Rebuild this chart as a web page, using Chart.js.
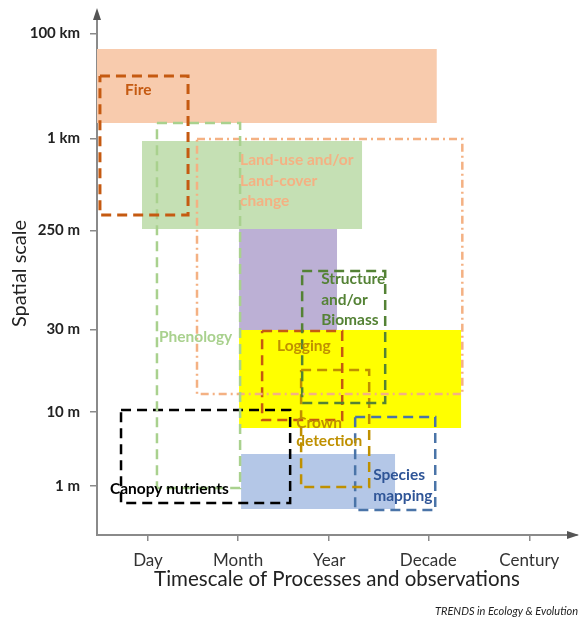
<!DOCTYPE html>
<html>
<head>
<meta charset="utf-8">
<script src="https://cdn.jsdelivr.net/npm/chart.js@4"></script>
<style>
  body { margin: 0; background: #fff; }
</style>
</head>
<body>
<canvas id="scaleChart" width="581" height="621"></canvas>
<script>
// axis ticks (conceptual, non-uniform scales)
const timeTickLabels = ['Day', 'Month', 'Year', 'Decade', 'Century'];
const timeTickValues = [1, 1.945, 2.9, 3.94, 5];
const spaceTickLabels = ['1 m', '10 m', '30 m', '250 m', '1 km', '100 km'];
const spaceTickValues = [1, 1.82, 2.74, 3.84, 4.86, 6.03];

// filled areas (sensor coverage)
const areaTimeFrom = [0.465, 0.937, 1.955, 1.955, 1.976];
const areaTimeTo = [4.03, 3.247, 2.984, 4.286, 3.593];
const areaSpaceFrom = [5.033, 3.856, 2.733, 1.644, 0.744];
const areaSpaceTo = [5.856, 4.833, 3.856, 2.733, 1.356];

// dashed boxes (processes)
const boxNames = ['Fire', 'Phenology', 'Land-use and/or land-cover change', 'Structure and/or Biomass',
  'Logging', 'Crown detection', 'Species mapping', 'Canopy nutrients'];
const boxTimeFrom = [0.496, 1.094, 1.514, 2.617, 2.197, 2.606, 3.173, 0.717];
const boxTimeTo = [1.42, 1.966, 4.297, 3.488, 3.037, 3.32, 4.013, 2.491];
const boxSpaceFrom = [4.011, 0.978, 2.022, 1.922, 1.733, 0.989, 0.733, 0.811];
const boxSpaceTo = [5.556, 5.033, 4.856, 3.389, 2.722, 2.289, 1.767, 1.844];
const boxLabelLines = [['Fire'], ['Phenology'], ['Land-use and/or', 'Land-cover', 'change'],
  ['Structure', 'and/or', 'Biomass'], ['Logging'], ['Crown', 'detection'], ['Species', 'mapping'],
  ['Canopy nutrients']];
const labelTime = [0.759, 1.115, 1.966, 2.816, 2.354, 2.554, 3.362, 0.601];
const labelSpace = [5.4, 2.656, 4.622, 3.3, 2.556, 1.7, 1.122, 0.967];

// styles
const areaColors = ['#f8cbad', '#c5e0b4', '#bcb0d5', '#ffff00', '#b4c7e7'];
const boxColors = ['#c55a11', '#a9d18e', '#f4b183', '#548235', '#c55a11', '#bf9000', '#4a74a8', '#000000'];
const labelColors = ['#c55a11', '#a9d18e', '#f4b183', '#548235', '#bf9000', '#bf9000', '#2f5597', '#000000'];
const axisGrey = '#8a8a8a';

const datasets = [];
boxNames.forEach((name, i) => {
    datasets.push({
        label: name,
        order: 0,
        data: [
            {x: boxTimeFrom[i], y: boxSpaceTo[i]},
            {x: boxTimeTo[i], y: boxSpaceTo[i]},
            {x: boxTimeTo[i], y: boxSpaceFrom[i]},
            {x: boxTimeFrom[i], y: boxSpaceFrom[i]},
            {x: boxTimeFrom[i], y: boxSpaceTo[i]}
        ],
        borderColor: boxColors[i],
        borderWidth: i === 0 ? 3 : 2.5,
        borderDash: i === 2 ? [8, 4, 2, 4] : [10, 6],
        borderCapStyle: 'butt',
        borderJoinStyle: 'miter',
        fill: false,
        pointRadius: 0,
        tension: 0
    });
});
areaColors.forEach((color, i) => {
    datasets.push({
        label: 'area' + i,
        order: 10,
        data: [
            {x: areaTimeFrom[i], y: areaSpaceTo[i]},
            {x: areaTimeTo[i], y: areaSpaceTo[i]}
        ],
        borderWidth: 0,
        borderColor: 'rgba(0,0,0,0)',
        backgroundColor: color,
        fill: {value: areaSpaceFrom[i]},
        pointRadius: 0
    });
});

// labels inside the boxes
const boxLabelPlugin = {
    id: 'boxLabels',
    afterDatasetsDraw(chart) {
        const {ctx, scales: {x, y}} = chart;
        ctx.save();
        ctx.font = 'bold 15.5px Lato';
        ctx.textAlign = 'left';
        ctx.textBaseline = 'middle';
        boxLabelLines.forEach((lines, i) => {
            ctx.fillStyle = labelColors[i];
            const px = x.getPixelForValue(labelTime[i]);
            const py = y.getPixelForValue(labelSpace[i]);
            const gap = lines[0] === 'Crown' ? 18 : 20.5;
            lines.forEach((line, j) => ctx.fillText(line, px, py + j * gap));
        });
        ctx.restore();
    }
};

// arrow heads + source note
const arrowPlugin = {
    id: 'axisArrows',
    afterDraw(chart) {
        const {ctx, chartArea: {left, right, top, bottom}} = chart;
        ctx.save();
        ctx.fillStyle = '#555';
        ctx.beginPath();
        ctx.moveTo(left, top - 4);
        ctx.lineTo(left - 4, top + 8);
        ctx.lineTo(left + 4, top + 8);
        ctx.closePath();
        ctx.fill();
        ctx.beginPath();
        ctx.moveTo(right + 2, bottom);
        ctx.lineTo(right - 10, bottom - 4);
        ctx.lineTo(right - 10, bottom + 4);
        ctx.closePath();
        ctx.fill();

        ctx.font = 'italic 11px Lato';
        ctx.fillStyle = '#222';
        ctx.textAlign = 'right';
        ctx.textBaseline = 'middle';
        ctx.fillText('TRENDS in Ecology & Evolution', 578, 611);
        ctx.restore();
    }
};

new Chart(document.getElementById('scaleChart'), {
    type: 'line',
    data: {datasets: datasets},
    options: {
        responsive: false,
        animation: false,
        devicePixelRatio: 1,
        layout: {padding: {top: 12, right: 4, left: 0, bottom: 0}},
        plugins: {
            legend: {display: false},
            tooltip: {enabled: false}
        },
        scales: {
            x: {
                type: 'linear',
                min: 0.465,
                max: 5.5,
                afterFit: scale => {
                    scale.height = 86;
                    scale.paddingLeft = 0;
                    scale.paddingRight = 0;
                },
                afterBuildTicks: scale => { scale.ticks = timeTickValues.map(v => ({value: v})); },
                ticks: {
                    callback: (value, index) => timeTickLabels[index],
                    font: {family: 'Lato', size: 17},
                    color: '#333',
                    padding: 9,
                    maxRotation: 0,
                    autoSkip: false
                },
                grid: {drawOnChartArea: false, tickLength: 6, color: axisGrey, lineWidth: 1.5},
                border: {color: axisGrey, width: 2},
                title: {
                    display: true,
                    text: 'Timescale of Processes and observations',
                    font: {family: 'Lato', size: 20.5},
                    color: '#222',
                    padding: {top: 0, bottom: 29}
                }
            },
            y: {
                type: 'linear',
                min: 0.456,
                max: 6.267,
                afterFit: scale => {
                    scale.width = 97;
                    scale.paddingTop = 0;
                    scale.paddingBottom = 0;
                },
                afterBuildTicks: scale => { scale.ticks = spaceTickValues.map(v => ({value: v})); },
                ticks: {
                    callback: (value, index) => spaceTickLabels[index],
                    font: {family: 'Lato', size: 15, weight: 'bold'},
                    color: '#222',
                    padding: 10,
                    autoSkip: false
                },
                grid: {drawOnChartArea: false, tickLength: 7, color: axisGrey, lineWidth: 1.5},
                border: {color: axisGrey, width: 2},
                title: {
                    display: true,
                    text: 'Spatial scale',
                    font: {family: 'Lato', size: 20},
                    color: '#222',
                    padding: {top: 8, bottom: 0}
                }
            }
        }
    },
    plugins: [boxLabelPlugin, arrowPlugin]
});
</script>
</body>
</html>
